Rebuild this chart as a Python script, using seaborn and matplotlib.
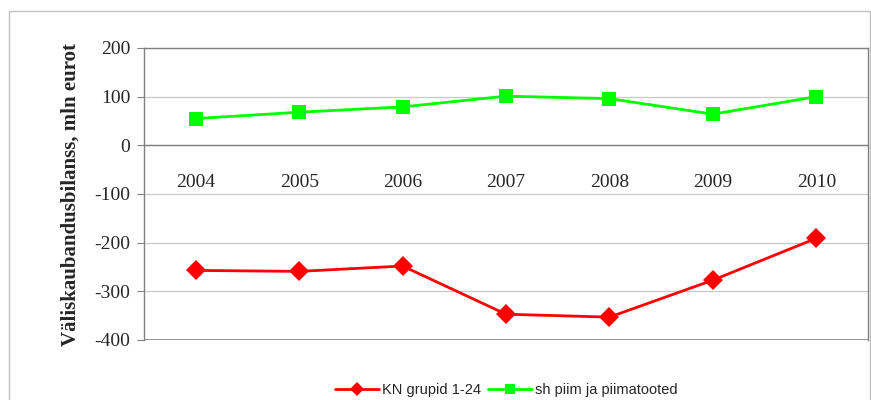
import numpy as np
import pandas as pd
import seaborn as sns
from matplotlib import pyplot as plt
from matplotlib.patches import Rectangle

years = ['2004', '2005', '2006', '2007', '2008', '2009', '2010']
kn_grupid = [-257, -259, -248, -347, -353, -277, -191]
piim = [55, 68, 79, 101, 96, 64, 100]
series_names = ['KN grupid 1-24', 'sh piim ja piimatooted']

df = pd.DataFrame({
    'aasta': list(range(len(years))) * 2,
    'bilanss': kn_grupid + piim,
    'seeria': [series_names[0]] * len(years) + [series_names[1]] * len(years),
})

sns.set_style('white')
plt.rcParams['font.family'] = ['Liberation Serif', 'DejaVu Serif']
plt.rcParams['axes.unicode_minus'] = False

fig = plt.figure(figsize=(8.71, 4.0), dpi=100)
ax = fig.add_axes([144 / 871, 60 / 400, 724 / 871, 292 / 400])

# välimine raam
fig.patches.append(Rectangle((9 / 871, -0.05), 861 / 871, 0.05 + 389 / 400,
                             transform=fig.transFigure, fill=False,
                             edgecolor='#BFBFBF', linewidth=1.0))

sns.lineplot(data=df, x='aasta', y='bilanss', hue='seeria', style='seeria',
             palette=['#FF0000', '#00FF00'], markers=['D', 's'], dashes=False,
             markersize=10, linewidth=2.0, markeredgewidth=0, ax=ax, legend=True)

ax.set_xlim(-0.5, len(years) - 0.5)
ax.set_ylim(-400, 200)
ax.set_yticks(np.arange(-400, 201, 100))
ax.yaxis.grid(True, color='#C8C8C8', linewidth=0.9)
ax.set_axisbelow(True)
# alumine raamijoon (telg on nulli peal)
ax.axhline(-400, color='#808080', linewidth=1.2, zorder=3)

ax.spines['bottom'].set_position(('data', 0))
for s in ['left', 'right', 'top', 'bottom']:
    ax.spines[s].set_color('#808080')
    ax.spines[s].set_linewidth(1.0)

ax.set_xticks(range(len(years)))
ax.set_xticklabels(years, fontsize=14)
ax.tick_params(axis='x', which='major', length=0, pad=21)
ax.set_xticks(np.arange(0.5, len(years) - 0.5, 1), minor=True)
ax.tick_params(axis='x', which='minor', length=6, direction='out', color='#808080', width=1.0)
ax.tick_params(axis='y', labelsize=14, length=5, direction='out', color='#808080', left=True, pad=5)

ax.set_xlabel('')
ax.set_ylabel('Väliskaubandusbilanss, mln eurot', fontsize=15, fontweight='bold', labelpad=10)

handles, labels = ax.get_legend_handles_labels()
for h in handles:
    h.set_markersize(7)
leg = ax.legend(handles, labels, loc='center', bbox_to_anchor=(0.5, -0.17),
                ncol=2, frameon=False, handlelength=3.0, columnspacing=0.5,
                handletextpad=0.2, prop={'family': 'Liberation Sans', 'size': 10.5})

fig.savefig('out.png', dpi=100)
